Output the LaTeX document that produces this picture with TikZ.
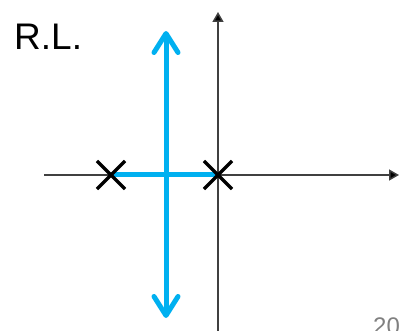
\documentclass[tikz,border=0pt]{standalone}
\usepackage{fontspec}
\setmainfont{Liberation Sans}
\usetikzlibrary{arrows.meta,shapes.misc}
\definecolor{rlblue}{HTML}{00B0F0}
\definecolor{axisgray}{HTML}{404040}
\tikzset{
  axisline/.style={draw=axisgray, line width=1.5pt, -{Triangle[length=10pt,width=11pt,fill=black]}},
  locus/.style={draw=rlblue, line width=5pt},
  locusarrow/.style={locus, -{Straight Barb[length=19pt,width=24pt,round]}},
  pole/.style={cross out, draw=black, line width=3.2pt, minimum size=25pt, inner sep=0pt},
}
\begin{document}
\begin{tikzpicture}[x=1pt,y=-1pt]
\useasboundingbox (0,0) rectangle (399,331);
\coordinate (xl) at (44,175);
\coordinate (xr) at (399,175);
\coordinate (yb) at (218,335);
\coordinate (yt) at (218,12);
\draw[axisline] (xl) -- (xr);
\draw[axisline] (yb) -- (yt);
\coordinate (p1) at (111,175);
\coordinate (p2) at (218,175);
\coordinate (mid) at (166,175);
\coordinate (up) at (166,31);
\coordinate (down) at (166,318);
\draw[locus] (p1) -- (p2);
\draw[locusarrow] (mid) -- (up);
\draw[locusarrow] (mid) -- (down);
\node[pole] (c1) at (p1) {};
\node[pole] (c2) at (p2) {};
\node[anchor=base west, font=\fontsize{37}{40}\selectfont, inner sep=0pt] (title) at (14,50) {R.L.};
\node[anchor=base west, font=\fontsize{24}{28}\selectfont, text=gray, inner sep=0pt] (pg) at (373,334) {20};
\end{tikzpicture}
\end{document}
